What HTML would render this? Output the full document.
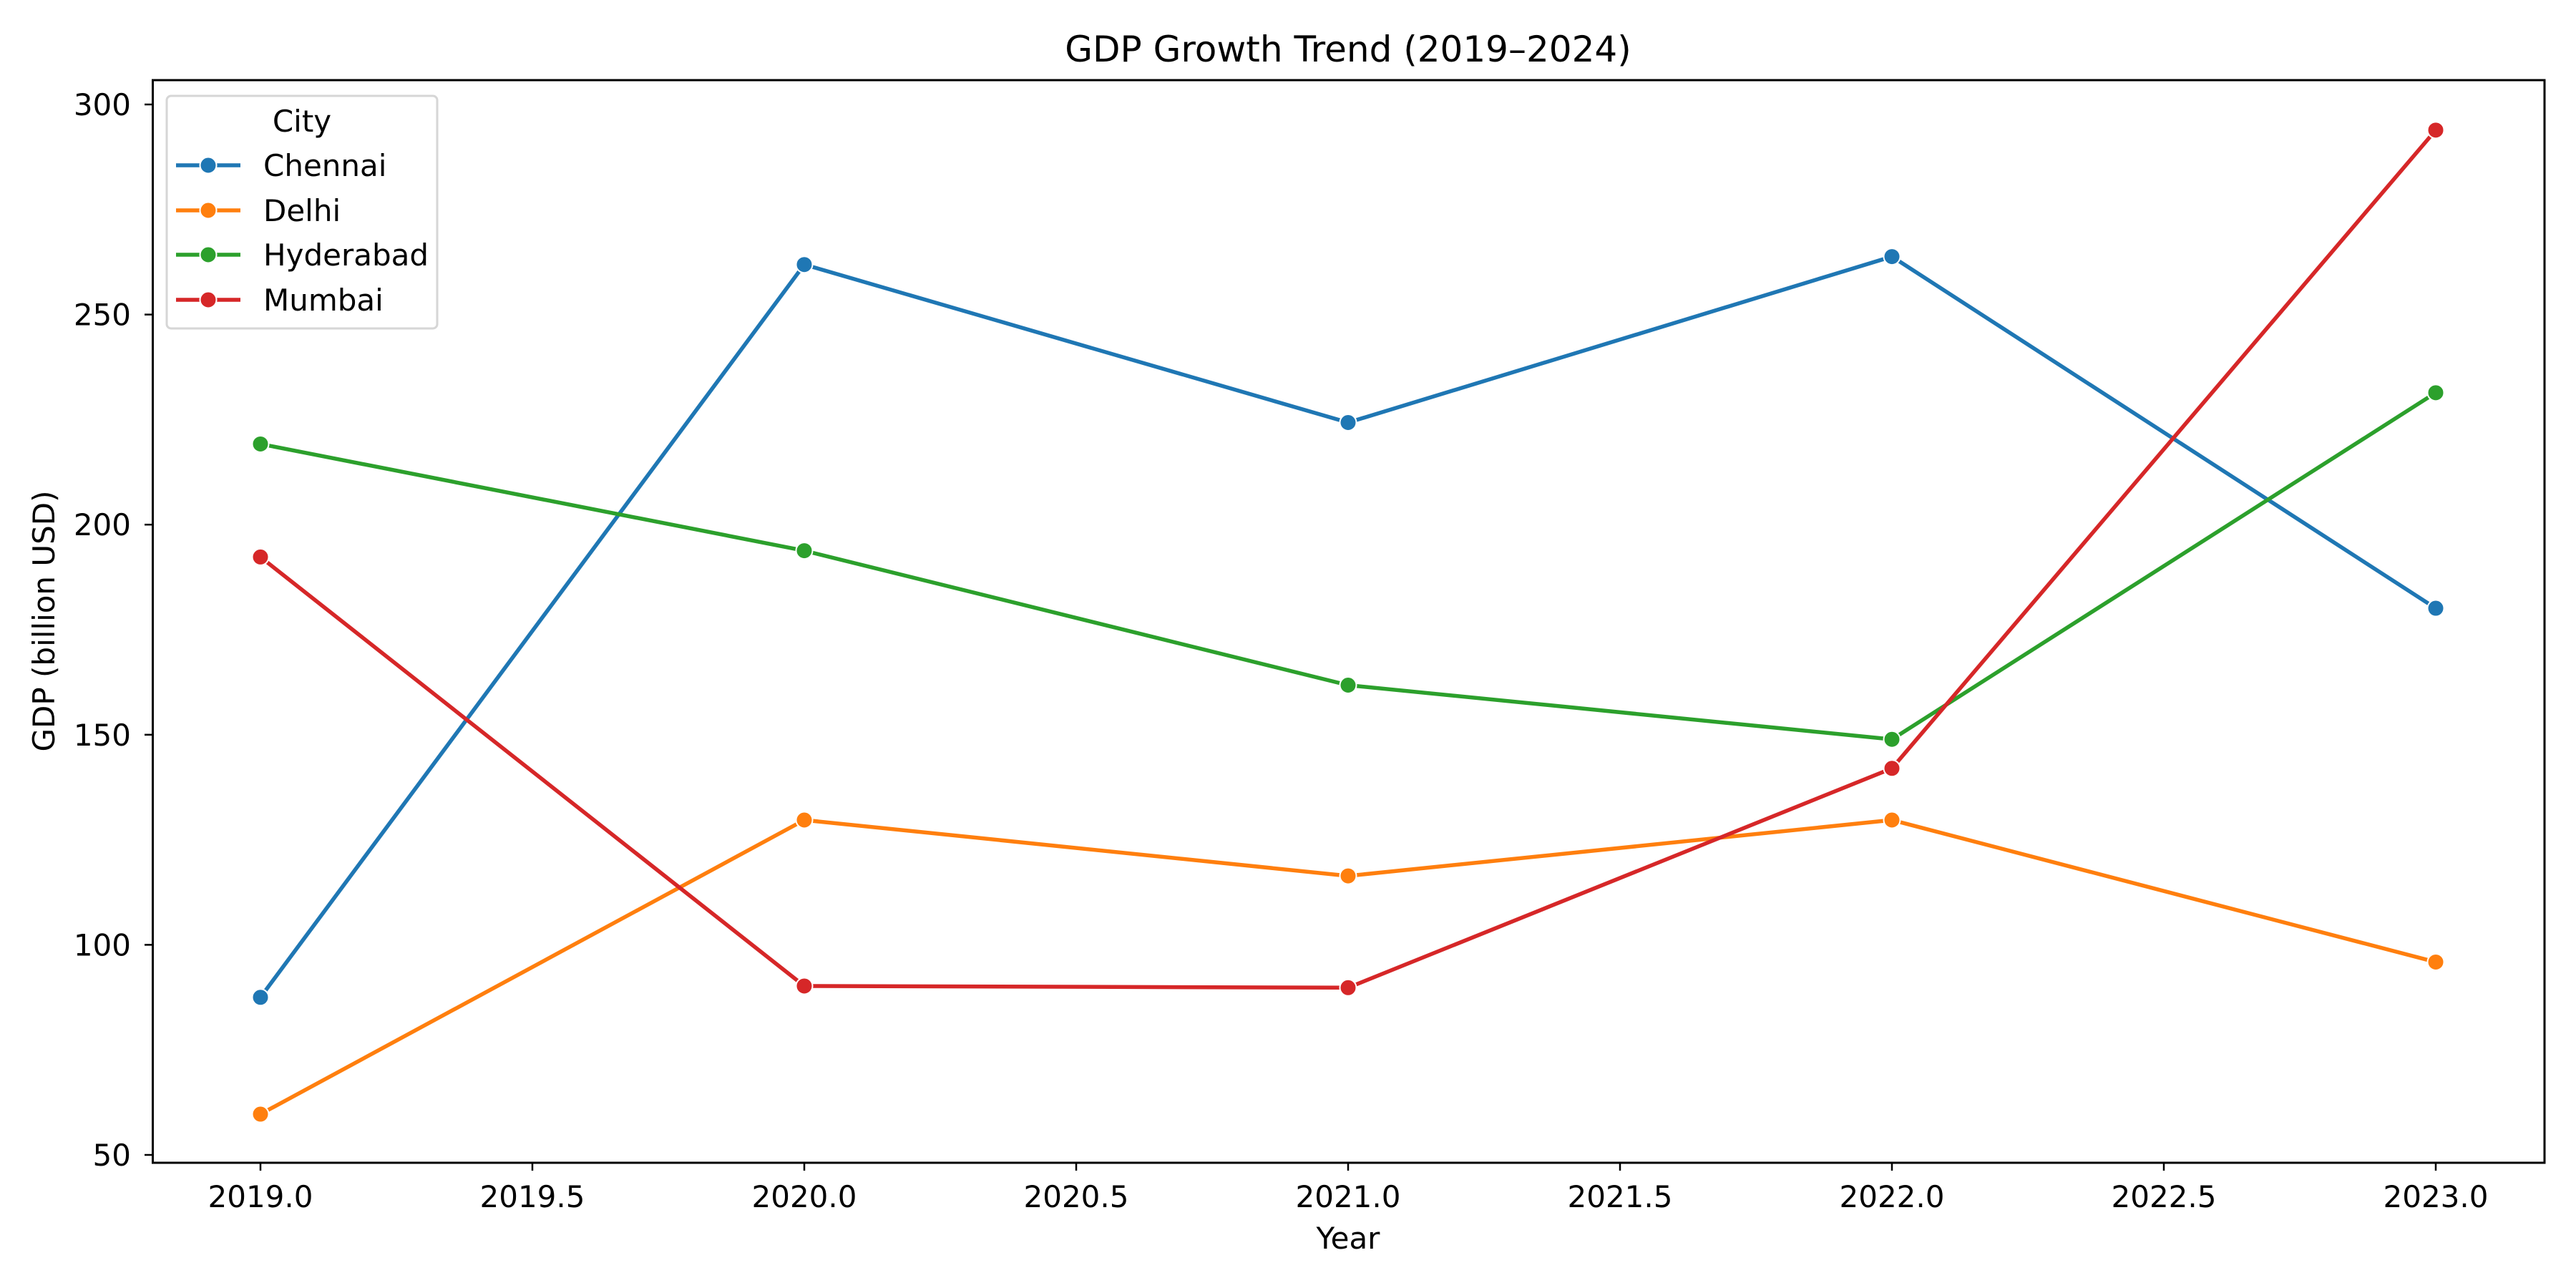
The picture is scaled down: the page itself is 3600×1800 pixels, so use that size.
<!DOCTYPE html>
<html><head><meta charset="utf-8"><style>
html,body{margin:0;padding:0;background:#fff;}
svg{display:block;font-family:"DejaVu Sans","Liberation Sans",sans-serif;}
</style></head><body>
<svg id="chart" width="3600" height="1800" viewBox="0 0 3600 1800" xmlns="http://www.w3.org/2000/svg">
<rect x="0" y="0" width="3600" height="1800" fill="#fff"/>
<text x="1884" y="86" font-size="50" text-anchor="middle">GDP Growth Trend (2019–2024)</text>
<g id="grid"></g>
<g id="series"></g>
<rect x="213.5" y="112" width="3342.5" height="1513" fill="none" stroke="#000" stroke-width="3"/>
<g id="axes"></g>
<text x="1884" y="1745" font-size="42" text-anchor="middle">Year</text>
<text x="0" y="0" font-size="42" text-anchor="middle" transform="translate(76,868) rotate(-90)">GDP (billion USD)</text>
<g id="legend"></g>
</svg>
<script>
const years = [2019, 2020, 2021, 2022, 2023];
const cities = ["Chennai", "Delhi", "Hyderabad", "Mumbai"];
const colors = ["#1f77b4", "#ff7f0e", "#2ca02c", "#d62728"];
const chennai = [87.5, 261.9, 224.3, 263.8, 180.1];
const delhi = [59.7, 129.7, 116.4, 129.7, 95.9];
const hyderabad = [219.2, 193.8, 161.8, 148.9, 231.4];
const mumbai = [192.3, 90.2, 89.8, 142.0, 293.9];
const xTicks = [2019.0, 2019.5, 2020.0, 2020.5, 2021.0, 2021.5, 2022.0, 2022.5, 2023.0];
const yTicks = [50, 100, 150, 200, 250, 300];

const NS = "http://www.w3.org/2000/svg";
function X(v){ return 364 + (v - 2019) * 760; }
function Y(v){ return 1614 - (v - 50) * 5.872; }
function mk(tag, attrs, parent){ const e=document.createElementNS(NS,tag); for(const k in attrs) e.setAttribute(k,attrs[k]); parent.appendChild(e); return e; }

const axes = document.getElementById('axes');
xTicks.forEach(t=>{
  const l = mk('line',{x1:X(t),x2:X(t),y1:1625,y2:1636,stroke:'#000','stroke-width':2.5},axes);
  
  
  const tx = mk('text',{x:X(t),y:1687,'font-size':42,'text-anchor':'middle'},axes);
  tx.textContent = t.toFixed(1);
  
  
});
yTicks.forEach(t=>{
  const l = mk('line',{x1:202,x2:213.5,y1:Y(t),y2:Y(t),stroke:'#000','stroke-width':2.5},axes);
  
  
  const tx = mk('text',{x:183,y:Y(t)+15,'font-size':42,'text-anchor':'end'},axes);
  tx.textContent = t;
  
  
});

const seriesData = [chennai, delhi, hyderabad, mumbai];
const sg = document.getElementById('series');
seriesData.forEach((vals,i)=>{
  const g = mk('g',{},sg);
  
  
  const pts = vals.map((v,j)=>X(years[j])+','+Y(v)).join(' ');
  const pl = mk('polyline',{points:pts,fill:'none',stroke:colors[i],'stroke-width':5.5,'stroke-linejoin':'round','stroke-linecap':'square'},g);
  
  
  vals.forEach((v,j)=>{
    const c = mk('circle',{cx:X(years[j]),cy:Y(v),r:11.5,fill:colors[i],stroke:'#fff','stroke-width':2},g);
    
    
  });
});

const lg = document.getElementById('legend');
const box = mk('rect',{x:233,y:134,width:378,height:325,rx:6,fill:'#fff','fill-opacity':0.8,stroke:'#d6d6d6','stroke-width':3},lg);


const lt = mk('text',{x:422,y:184,'font-size':42,'text-anchor':'middle'},lg);
lt.textContent = 'City';


const rowsY = [231, 294, 356, 419];
cities.forEach((c,i)=>{
  const g = mk('g',{},lg);
  
  
  mk('line',{x1:246,x2:336,y1:rowsY[i],y2:rowsY[i],stroke:colors[i],'stroke-width':5.5},g);
  mk('circle',{cx:291,cy:rowsY[i],r:11.5,fill:colors[i],stroke:'#fff','stroke-width':2},g);
  const t = mk('text',{x:368,y:rowsY[i]+15,'font-size':42},g);
  t.textContent = c;
});
</script>
</body></html>
